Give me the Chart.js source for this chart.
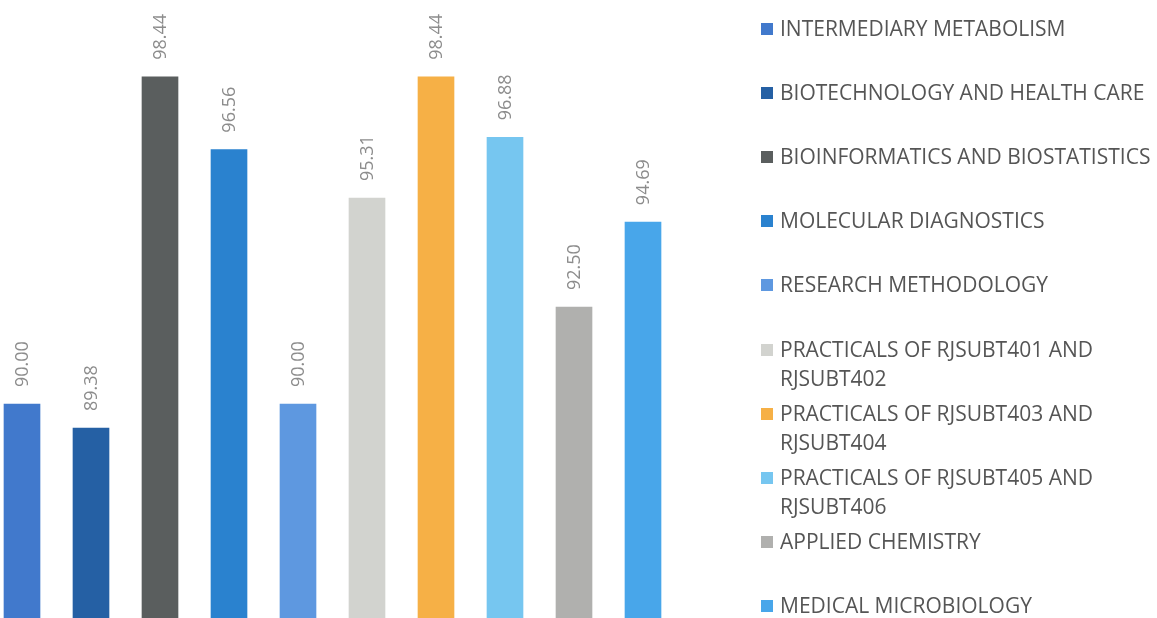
<!DOCTYPE html>
<html>
<head>
<meta charset="utf-8">
<script src="https://cdn.jsdelivr.net/npm/chart.js@4/dist/chart.umd.min.js"></script>
<style>
    html, body { margin: 0; padding: 0; background: #fff; overflow: hidden; }
    #wrap { position: relative; width: 1157px; height: 618px; }
    #chart { position: absolute; left: 0; top: 0; }
    #legend { position: absolute; left: 761px; top: 0; font-family: "Open Sans", sans-serif; font-size: 21px; color: #555; }
    .item { position: absolute; left: 0; width: 377px; padding-left: 19px; line-height: 29px; }
    .box { position: absolute; left: 0; top: 9px; width: 12px; height: 12px; }
</style>
</head>
<body>
<div id="wrap">
    <canvas id="chart" width="1157" height="618"></canvas>
    <div id="legend"></div>
</div>
<script>
// dados do grafico
const subjects = [
    'INTERMEDIARY METABOLISM',
    'BIOTECHNOLOGY AND HEALTH CARE',
    'BIOINFORMATICS AND BIOSTATISTICS',
    'MOLECULAR DIAGNOSTICS',
    'RESEARCH METHODOLOGY',
    'PRACTICALS OF RJSUBT401 AND RJSUBT402',
    'PRACTICALS OF RJSUBT403 AND RJSUBT404',
    'PRACTICALS OF RJSUBT405 AND RJSUBT406',
    'APPLIED CHEMISTRY',
    'MEDICAL MICROBIOLOGY'
];
const scores = [90.00, 89.38, 98.44, 96.56, 90.00, 95.31, 98.44, 96.88, 92.50, 94.69];
const colors = ['#4179cc', '#2560a4', '#5a5e5e', '#2a82cf', '#5e98e0', '#d2d3cf', '#f6b046', '#76c6f0', '#b0b0ae', '#48a6ea'];

// rotulos de valor na vertical acima das barras
const valueLabels = {
    id: 'valueLabels',
    afterDatasetsDraw(chart) {
        const ctx = chart.ctx;
        const meta = chart.getDatasetMeta(0);
        ctx.save();
        ctx.font = '18px "Open Sans"';
        ctx.fillStyle = '#8c8c8c';
        ctx.textAlign = 'left';
        ctx.textBaseline = 'middle';
        meta.data.forEach((bar, i) => {
            ctx.save();
            ctx.translate(bar.x + 1, bar.y - 17);
            ctx.rotate(-Math.PI / 2);
            ctx.fillText(scores[i].toFixed(2), 0, 0);
            ctx.restore();
        });
        ctx.restore();
    }
};

const ctx = document.getElementById('chart').getContext('2d');
new Chart(ctx, {
    type: 'bar',
    data: {
        labels: subjects,
        datasets: [{
            data: scores,
            backgroundColor: colors,
            barThickness: 36,
            clip: false
        }]
    },
    options: {
        responsive: false,
        animation: false,
        layout: { padding: { left: 22, right: 514, top: 0, bottom: 0 } },
        plugins: { legend: { display: false }, tooltip: { enabled: false } },
        scales: {
            x: { display: false, offset: false },
            y: { display: false, min: 84.48, max: 100.42 }
        }
    },
    plugins: [valueLabels]
});

// legenda em html (com quebra de linha igual ao original)
const legend = document.getElementById('legend');
subjects.forEach((name, i) => {
    const item = document.createElement('div');
    item.className = 'item';
    item.style.top = (13.5 + 64.2 * i) + 'px';
    item.innerHTML = `<span class="box" style="background:${colors[i]}"></span>${name}`;
    legend.appendChild(item);
});
</script>
</body>
</html>
